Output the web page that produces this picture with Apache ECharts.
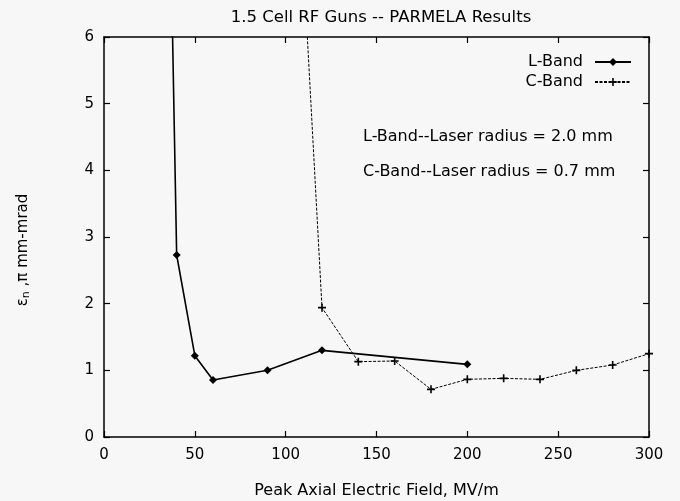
<!DOCTYPE html>
<html><head><meta charset="utf-8">
<script src="https://cdn.jsdelivr.net/npm/echarts@6/dist/echarts.min.js"></script>
<style>html,body{margin:0;padding:0;background:#f7f7f7}#c{width:680px;height:501px}</style>
</head><body><div id="c"></div>
<script>
var lBandX = [35, 40, 50, 60, 90, 120, 200];
var lBandY = [10, 2.73, 1.22, 0.855, 1.0, 1.30, 1.09];
var cBandX = [100, 120, 140, 160, 180, 200, 220, 240, 260, 280, 300];
var cBandY = [12, 1.94, 1.13, 1.14, 0.715, 0.865, 0.88, 0.865, 1.0, 1.08, 1.25];
var xTicks = [0, 50, 100, 150, 200, 250, 300];
var yTicks = [0, 1, 2, 3, 4, 5, 6];
var titleText = '1.5 Cell RF Guns -- PARMELA Results';
var xName = 'Peak Axial Electric Field, MV/m';
var notes = ['L-Band--Laser radius = 2.0 mm', 'C-Band--Laser radius = 0.7 mm'];

function pairs(xs, ys){ return xs.map(function(x,i){return [x, ys[i]];}); }
var FONT = '"DejaVu Sans", "Liberation Sans", Arial, sans-serif';
var plus = 'path://M4,0h2v4h4v2h-4v4h-2v-4h-4v-2h4z';
var chart = echarts.init(document.getElementById('c'));
var axisCommon = {
  axisLine: {show: true, onZero: false, lineStyle: {color: '#000', width: 1.5}},
  axisTick: {show: true, inside: true, length: 6, lineStyle: {color: '#000', width: 1.2}},
  splitLine: {show: false}
};
chart.setOption({
  backgroundColor: '#f7f7f7',
  animation: false,
  title: {text: titleText, left: 376, top: 4, textAlign: 'center',
    textStyle: {fontFamily: FONT, fontSize: 16.5, fontWeight: 'normal', color: '#000'}},
  grid: {left: 104, right: 31, top: 37, bottom: 64, containLabel: false, outerBoundsMode: 'none'},
  legend: {
    right: 43, top: 48, orient: 'vertical', align: 'right', itemGap: 2,
    itemWidth: 36, itemHeight: 10,
    textStyle: {fontFamily: FONT, fontSize: 16, color: '#000', lineHeight: 18, padding: [0, 7, 0, 0]},
    data: ['L-Band', 'C-Band']
  },
  xAxis: [
    Object.assign({type: 'value', min: 0, max: 300, interval: 50, position: 'bottom',
      name: xName, nameLocation: 'middle', nameGap: 46,
      nameTextStyle: {fontFamily: FONT, fontSize: 16, color: '#000'},
      axisLabel: {fontFamily: FONT, fontSize: 15, color: '#000', margin: 11}}, axisCommon),
    Object.assign({type: 'value', min: 0, max: 300, interval: 50, position: 'top',
      axisLabel: {show: false}}, axisCommon)
  ],
  yAxis: [
    Object.assign({type: 'value', min: 0, max: 6, interval: 1, position: 'left',
      axisLabel: {fontFamily: FONT, fontSize: 15, color: '#000', margin: 10}}, axisCommon),
    Object.assign({type: 'value', min: 0, max: 6, interval: 1, position: 'right',
      axisLabel: {show: false}}, axisCommon)
  ],
  graphic: [
    {type: 'text', x: 23, y: 250, rotation: Math.PI / 2, z: 10,
      style: {text: '{e|ε}{s|n}{e| ,π mm-mrad}', align: 'center', verticalAlign: 'middle',
        rich: {e: {fontFamily: FONT, fontSize: 15, fill: '#000'},
               s: {fontFamily: FONT, fontSize: 11, fill: '#000', verticalAlign: 'bottom', padding: [7,0,0,0]}}}},
    {type: 'text', x: 363, y: 137, z: 10,
      style: {text: notes[0], fontFamily: FONT, fontSize: 16, fill: '#000', verticalAlign: 'middle'}},
    {type: 'text', x: 363, y: 172, z: 10,
      style: {text: notes[1], fontFamily: FONT, fontSize: 16, fill: '#000', verticalAlign: 'middle'}}
  ],
  series: [
    {name: 'L-Band', type: 'line', data: pairs(lBandX, lBandY), clip: true,
      symbol: 'diamond', symbolSize: 8, showAllSymbol: true,
      lineStyle: {color: '#000', width: 1.6, type: 'solid'},
      itemStyle: {color: '#000'}},
    {name: 'C-Band', type: 'line', data: pairs(cBandX, cBandY), clip: true,
      symbol: plus, symbolSize: 8, showAllSymbol: true,
      lineStyle: {color: '#000', width: 1, type: [3, 1.5]},
      itemStyle: {color: '#000'}}
  ]
});
</script></body></html>
